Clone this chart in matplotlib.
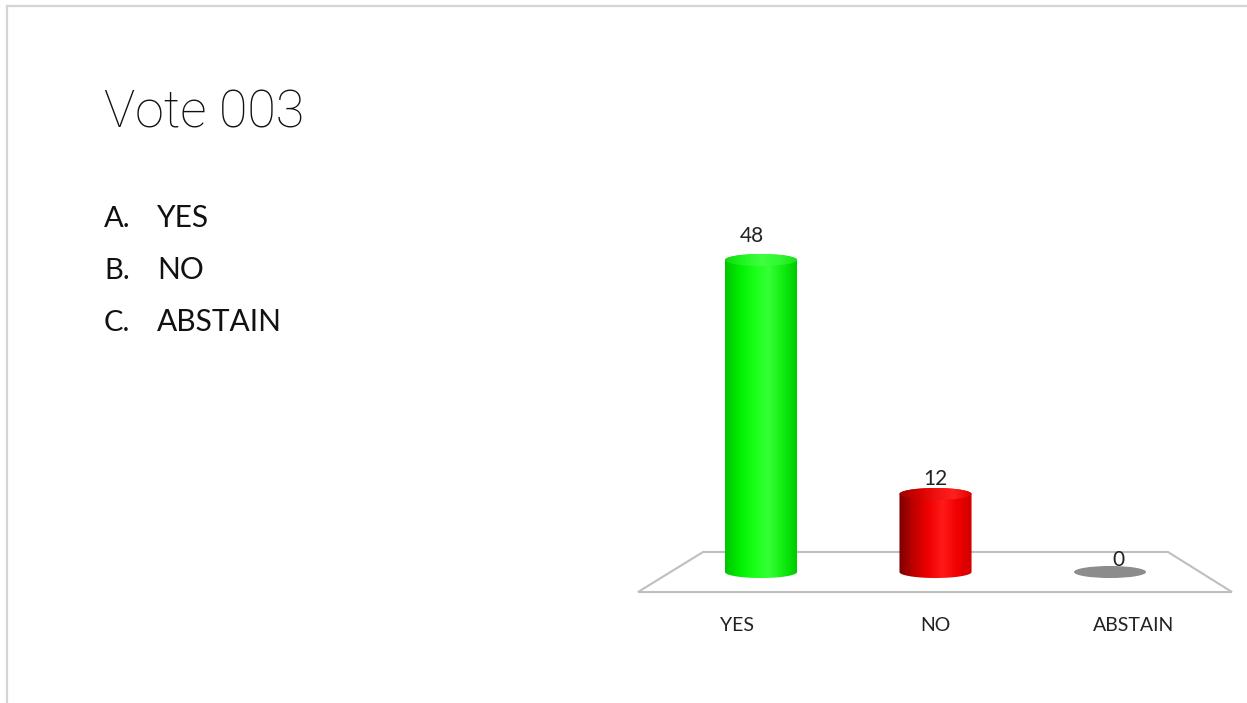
import numpy as np
import matplotlib
matplotlib.use("Agg")
import matplotlib.pyplot as plt
from matplotlib.colors import LinearSegmentedColormap
from matplotlib.patches import PathPatch, Ellipse, Polygon
from matplotlib.path import Path
from matplotlib.lines import Line2D

# data
title = "Vote 003"
options = ["A.", "B.", "C."]
categories = ["YES", "NO", "ABSTAIN"]
votes = [48, 12, 0]

plt.rcParams['font.family'] = ['Lato', 'DejaVu Sans']

W, H = 1247, 703
fig = plt.figure(figsize=(W / 100, H / 100), dpi=100)
fig.patch.set_facecolor('white')


def fx(px):
    return px / W


def fy(py):
    return 1 - py / H


# slide border
fig.add_artist(Line2D([fx(7), 1], [fy(6), fy(6)], color='#d4d4d4', lw=1.6))
fig.add_artist(Line2D([fx(7), fx(7)], [fy(6), 0], color='#d4d4d4', lw=1.6))

# title and option list
fig.text(fx(104), fy(128), title, fontsize=37.5, fontweight='light', va='baseline', ha='left',
         color='#111111', family=['Roboto', 'DejaVu Sans'])
for i, (opt, cat) in enumerate(zip(options, categories)):
    yb = 227 + i * 52
    fig.text(fx(104), fy(yb), opt, fontsize=21, va='baseline', ha='left', color='#111111')
    fig.text(fx(157), fy(yb), cat, fontsize=21.5, va='baseline', ha='left', color='#111111')

# chart axes (pixel box 600..1247 x 180..680)
ax = fig.add_axes([fx(600), fy(680), fx(1247) - fx(600), fy(180) - fy(680)])
ax.axis('off')

# floor
floor = Polygon([(-0.332, 3.08), (2.332, 3.08), (2.699, -3.08), (-0.705, -3.08)],
                closed=True, facecolor='white', edgecolor='#bfbfbf', lw=1.5, zorder=1)
ax.add_patch(floor)

w = 0.413
eh = 1.85

cmaps = [
    LinearSegmentedColormap.from_list('g', ['#00c400', '#00ee00', '#18ff18', '#35ff35', '#10ec10', '#00c800']),
    LinearSegmentedColormap.from_list('r', ['#7a0000', '#c00000', '#f00000', '#ff1a1a', '#f20000', '#d00000']),
]
top_cmaps = [
    LinearSegmentedColormap.from_list('gt', ['#10d810', '#22f522', '#40ff40', '#30f830', '#18e018']),
    LinearSegmentedColormap.from_list('rt', ['#a00000', '#d00000', '#f01010', '#ff2020', '#e00000']),
]
grad = np.linspace(0, 1, 256).reshape(1, -1)

for i, v in enumerate(votes):
    c = i
    if v == 0:
        ax.add_patch(Ellipse((c, 0), w, eh, facecolor='#8c8c8c', edgecolor='none', zorder=3))
    else:
        t1 = np.linspace(np.pi, 0, 60)
        t2 = np.linspace(0, np.pi, 60)
        xs = np.concatenate([[c - w / 2], c + w / 2 * np.cos(t1), [c + w / 2], c + w / 2 * np.cos(t2)])
        ys = np.concatenate([[v], -eh / 2 * np.sin(t1), [v], v + eh / 2 * np.sin(t2)])
        verts = np.column_stack([xs, ys])
        body = PathPatch(Path(np.vstack([verts, verts[:1]]), closed=True), facecolor='none', edgecolor='none')
        ax.add_patch(body)
        im = ax.imshow(grad, cmap=cmaps[i], extent=[c - w / 2, c + w / 2, -eh, v + eh],
                       aspect='auto', zorder=3, interpolation='bilinear')
        im.set_clip_path(body)
        cap = Ellipse((c, v), w, eh, facecolor='none', edgecolor='none')
        ax.add_patch(cap)
        im2 = ax.imshow(grad, cmap=top_cmaps[i], extent=[c - w / 2, c + w / 2, v - eh, v + eh],
                        aspect='auto', zorder=4, interpolation='bilinear')
        im2.set_clip_path(cap)
    # value label
    ax.text(1 + (c - 1) * 1.05, v * 1.04 + 0.9, str(v), ha='center', va='baseline',
            fontsize=15, color='#222222', zorder=5)
    # category label
    ax.text(1 + (c - 1) * 1.135, -9.0, categories[i], ha='center', va='baseline',
            fontsize=14, color='#222222', zorder=5)

ax.set_xlim(-0.9226, 2.785)
ax.set_ylim(-16.615, 60.31)

fig.savefig('out.png', dpi=100)
